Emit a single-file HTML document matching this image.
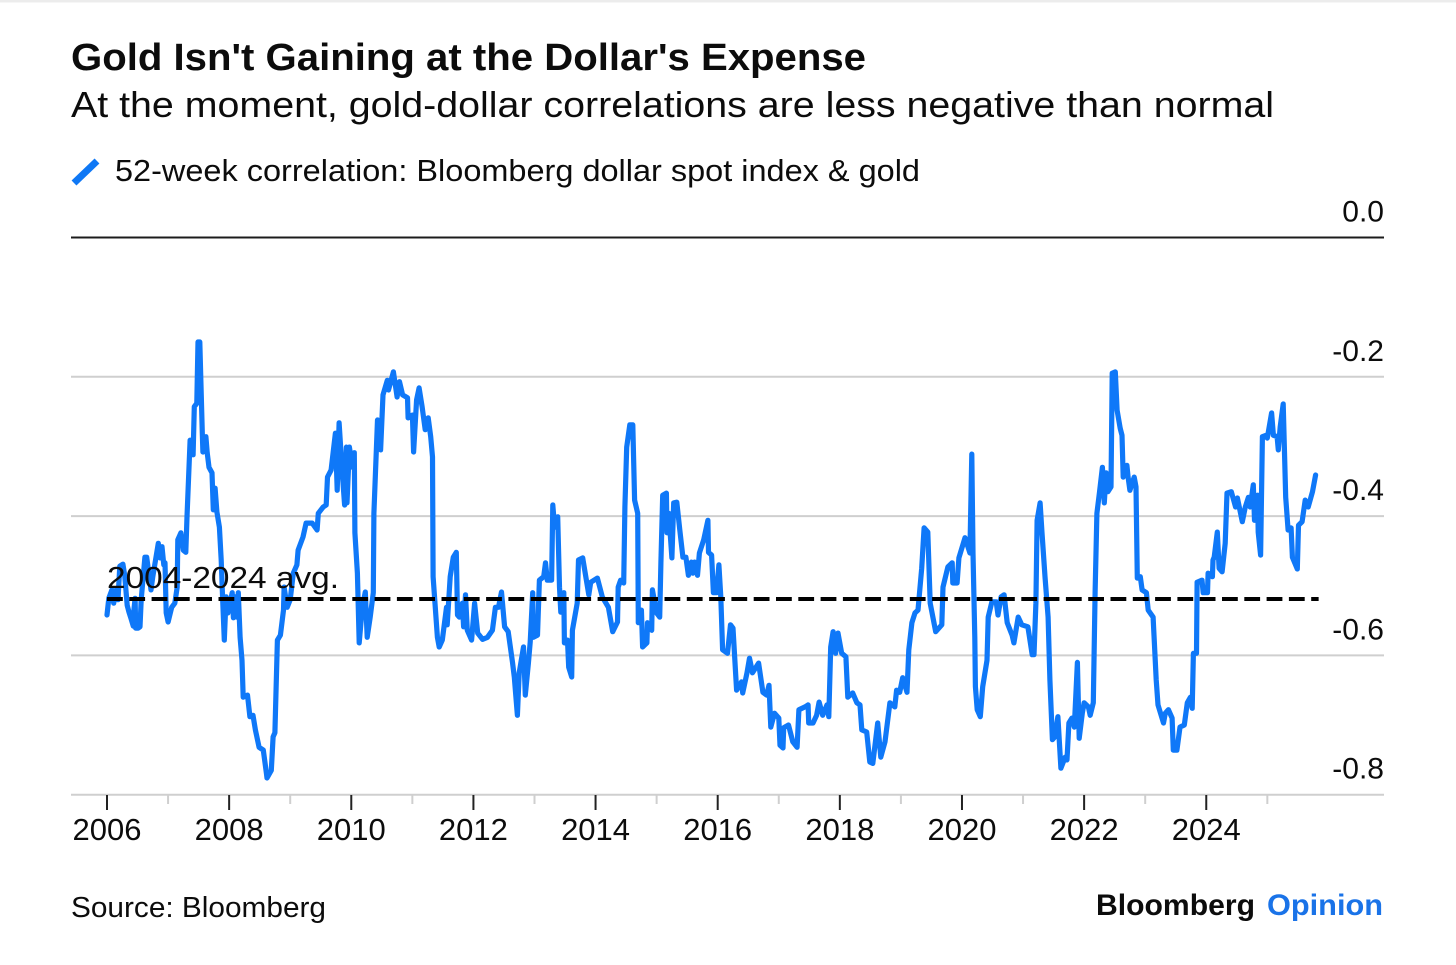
<!DOCTYPE html>
<html lang="en">
<head>
<meta charset="utf-8">
<title>Gold Isn't Gaining at the Dollar's Expense</title>
<style>
html,body{margin:0;padding:0;background:#fff;}
svg{display:block;}
text{font-family:"Liberation Sans",sans-serif;fill:#0c0c0c;}
</style>
</head>
<body>
<svg id="chart" xmlns="http://www.w3.org/2000/svg" width="1456" height="965" viewBox="0 0 1456 965">
  <rect x="0" y="0" width="1456" height="965" fill="#fff"/>
  <rect x="0" y="0" width="1456" height="2.5" fill="#ececec"/>
  <text x="71" y="70" font-size="38" font-weight="700" textLength="795" lengthAdjust="spacingAndGlyphs">Gold Isn't Gaining at the Dollar's Expense</text>
  <text x="71" y="117" font-size="36" textLength="1203" lengthAdjust="spacingAndGlyphs">At the moment, gold-dollar correlations are less negative than normal</text>
  <line x1="74" y1="183" x2="97" y2="161" stroke="#0f78f5" stroke-width="7"/>
  <text x="115" y="181" font-size="31" textLength="805" lengthAdjust="spacingAndGlyphs">52-week correlation: Bloomberg dollar spot index &amp; gold</text>
  <g id="grid"></g>
  <g id="yLabels"></g>
  <g id="xAxis"></g>
  <path id="series" fill="none" stroke="#0f78f8" stroke-width="5.2" stroke-linejoin="round" stroke-linecap="round"></path>
  <line id="avgLine" stroke="#000" stroke-width="4" stroke-dasharray="15.8 6.5"></line>
  <text id="avgLabel" font-size="31" textLength="232" lengthAdjust="spacingAndGlyphs">2004-2024 avg.</text>
  <text x="71" y="917" font-size="29" textLength="255" lengthAdjust="spacingAndGlyphs">Source: Bloomberg</text>
  <text x="1096" y="915" font-size="30" font-weight="700" textLength="159" lengthAdjust="spacingAndGlyphs">Bloomberg</text>
  <text x="1267" y="915" font-size="30" font-weight="700" textLength="116" lengthAdjust="spacingAndGlyphs" style="fill:#1a73e8">Opinion</text>
</svg>
<script>
const yTicks = [0, -0.2, -0.4, -0.6, -0.8];
const yTickLabels = ["0.0", "-0.2", "-0.4", "-0.6", "-0.8"];
const xMajorYears = [2006, 2008, 2010, 2012, 2014, 2016, 2018, 2020, 2022, 2024];
const xMinorYears = [2007, 2009, 2011, 2013, 2015, 2017, 2019, 2021, 2023, 2025];
const averageValue = -0.519;
const averageStart = 2006;
const averageEnd = 2025.84;
const dates = [
2006.00,2006.03,2006.08,2006.11,2006.15,2006.18,2006.21,2006.26,2006.29,2006.33,
2006.36,2006.39,2006.43,2006.44,2006.46,2006.47,2006.51,2006.54,2006.56,2006.62,
2006.65,2006.69,2006.72,2006.75,2006.84,2006.87,2006.90,2006.93,2006.95,2006.97,
2007.00,2007.06,2007.11,2007.15,2007.16,2007.21,2007.25,2007.29,2007.31,2007.36,
2007.39,2007.41,2007.43,2007.47,2007.49,2007.52,2007.56,2007.57,2007.62,2007.64,
2007.67,2007.72,2007.74,2007.77,2007.80,2007.84,2007.87,2007.89,2007.92,2007.95,
2007.98,2008.05,2008.07,2008.10,2008.13,2008.15,2008.18,2008.21,2008.23,2008.30,
2008.34,2008.39,2008.43,2008.49,2008.56,2008.61,2008.62,2008.69,2008.72,2008.75,
2008.79,2008.84,2008.89,2008.90,2008.95,2009.00,2009.05,2009.11,2009.13,2009.21,
2009.26,2009.36,2009.44,2009.46,2009.54,2009.59,2009.61,2009.67,2009.74,2009.77,
2009.80,2009.85,2009.89,2009.92,2009.93,2009.97,2010.02,2010.05,2010.06,2010.10,
2010.13,2010.18,2010.23,2010.26,2010.31,2010.36,2010.37,2010.43,2010.48,2010.52,
2010.59,2010.61,2010.69,2010.75,2010.79,2010.84,2010.92,2010.93,2011.00,2011.02,
2011.07,2011.11,2011.16,2011.21,2011.26,2011.30,2011.33,2011.34,2011.41,2011.44,
2011.49,2011.56,2011.57,2011.62,2011.67,2011.72,2011.74,2011.77,2011.82,2011.84,
2011.87,2011.90,2011.97,2012.02,2012.07,2012.15,2012.23,2012.31,2012.36,2012.41,
2012.46,2012.51,2012.57,2012.64,2012.67,2012.72,2012.75,2012.82,2012.85,2012.90,
2012.93,2012.97,2012.98,2013.05,2013.08,2013.15,2013.18,2013.21,2013.28,2013.30,
2013.33,2013.38,2013.41,2013.43,2013.48,2013.49,2013.54,2013.56,2013.61,2013.62,
2013.70,2013.72,2013.79,2013.84,2013.89,2013.92,2014.03,2014.11,2014.21,2014.28,
2014.36,2014.37,2014.41,2014.46,2014.48,2014.51,2014.56,2014.61,2014.64,2014.69,
2014.70,2014.75,2014.77,2014.84,2014.85,2014.92,2014.93,2015.00,2015.05,2015.07,
2015.10,2015.16,2015.17,2015.20,2015.25,2015.28,2015.33,2015.38,2015.43,2015.48,
2015.52,2015.57,2015.59,2015.62,2015.67,2015.70,2015.77,2015.84,2015.85,2015.90,
2015.93,2015.98,2016.02,2016.05,2016.08,2016.16,2016.21,2016.25,2016.31,2016.39,
2016.41,2016.48,2016.52,2016.57,2016.67,2016.74,2016.80,2016.84,2016.87,2016.93,
2017.00,2017.02,2017.07,2017.08,2017.16,2017.23,2017.30,2017.33,2017.43,2017.48,
2017.49,2017.56,2017.62,2017.66,2017.72,2017.79,2017.82,2017.85,2017.89,2017.93,
2017.97,2018.03,2018.10,2018.13,2018.21,2018.28,2018.33,2018.36,2018.44,2018.49,
2018.54,2018.62,2018.67,2018.74,2018.82,2018.90,2018.93,2018.98,2019.03,2019.10,
2019.13,2019.18,2019.23,2019.28,2019.34,2019.38,2019.44,2019.48,2019.57,2019.67,
2019.69,2019.77,2019.84,2019.85,2019.92,2019.95,2020.05,2020.13,2020.16,2020.18,
2020.21,2020.22,2020.25,2020.30,2020.34,2020.41,2020.43,2020.49,2020.56,2020.59,
2020.64,2020.69,2020.74,2020.82,2020.85,2020.92,2020.98,2021.08,2021.15,2021.18,
2021.21,2021.23,2021.28,2021.31,2021.36,2021.41,2021.44,2021.48,2021.52,2021.57,
2021.62,2021.69,2021.72,2021.75,2021.80,2021.84,2021.89,2021.92,2021.97,2022.00,
2022.07,2022.10,2022.15,2022.18,2022.21,2022.25,2022.30,2022.33,2022.36,2022.39,
2022.44,2022.46,2022.51,2022.54,2022.59,2022.62,2022.64,2022.70,2022.72,2022.75,
2022.82,2022.85,2022.87,2022.92,2022.95,2023.02,2023.05,2023.13,2023.18,2023.21,
2023.30,2023.33,2023.38,2023.44,2023.46,2023.52,2023.57,2023.64,2023.69,2023.74,
2023.77,2023.79,2023.84,2023.85,2023.93,2023.95,2024.02,2024.03,2024.10,2024.11,
2024.13,2024.18,2024.21,2024.26,2024.31,2024.34,2024.41,2024.48,2024.51,2024.59,
2024.64,2024.69,2024.72,2024.77,2024.79,2024.84,2024.85,2024.89,2024.92,2024.98,
2025.00,2025.07,2025.10,2025.16,2025.18,2025.21,2025.26,2025.30,2025.34,2025.39,
2025.41,2025.49,2025.51,2025.57,2025.62,2025.67,2025.74,2025.79
];
const correlation = [
-.542,-.518,-.506,-.525,-.506,-.520,-.472,-.469,-.485,-.528,
-.538,-.546,-.558,-.535,-.518,-.561,-.561,-.559,-.520,-.459,
-.459,-.485,-.506,-.487,-.439,-.460,-.444,-.470,-.467,-.539,
-.552,-.531,-.525,-.502,-.434,-.424,-.449,-.452,-.401,-.291,
-.291,-.312,-.243,-.238,-.150,-.150,-.281,-.308,-.286,-.309,
-.330,-.338,-.391,-.360,-.394,-.416,-.463,-.510,-.578,-.516,
-.539,-.510,-.546,-.516,-.545,-.510,-.574,-.607,-.660,-.657,
-.688,-.686,-.707,-.732,-.736,-.769,-.776,-.765,-.717,-.711,
-.578,-.571,-.535,-.502,-.531,-.520,-.482,-.470,-.449,-.430,
-.410,-.410,-.420,-.396,-.387,-.384,-.344,-.334,-.281,-.363,
-.266,-.334,-.384,-.301,-.381,-.301,-.330,-.309,-.424,-.482,
-.582,-.531,-.509,-.574,-.545,-.510,-.396,-.262,-.305,-.226,
-.205,-.219,-.193,-.229,-.207,-.226,-.230,-.259,-.255,-.308,
-.233,-.216,-.243,-.276,-.259,-.286,-.315,-.487,-.574,-.588,
-.578,-.531,-.556,-.487,-.459,-.452,-.542,-.545,-.525,-.559,
-.513,-.564,-.578,-.525,-.568,-.577,-.574,-.564,-.531,-.531,
-.509,-.559,-.566,-.610,-.631,-.686,-.625,-.588,-.657,-.611,
-.581,-.510,-.574,-.571,-.492,-.487,-.467,-.492,-.492,-.384,
-.416,-.401,-.502,-.538,-.510,-.582,-.578,-.617,-.631,-.564,
-.525,-.463,-.460,-.487,-.513,-.495,-.489,-.516,-.531,-.566,
-.552,-.502,-.492,-.496,-.387,-.301,-.269,-.269,-.377,-.396,
-.553,-.535,-.588,-.582,-.553,-.564,-.506,-.539,-.545,-.467,
-.370,-.367,-.424,-.396,-.460,-.381,-.380,-.420,-.459,-.459,
-.485,-.466,-.482,-.466,-.485,-.453,-.434,-.406,-.452,-.456,
-.510,-.510,-.470,-.516,-.592,-.597,-.556,-.561,-.650,-.638,
-.654,-.625,-.604,-.625,-.611,-.653,-.657,-.643,-.703,-.683,
-.690,-.729,-.733,-.704,-.700,-.724,-.732,-.678,-.674,-.671,
-.697,-.697,-.686,-.667,-.686,-.671,-.688,-.588,-.566,-.597,
-.568,-.597,-.602,-.660,-.654,-.668,-.671,-.707,-.710,-.753,
-.755,-.697,-.746,-.724,-.668,-.674,-.650,-.653,-.632,-.653,
-.592,-.553,-.539,-.535,-.475,-.417,-.423,-.525,-.566,-.556,
-.502,-.473,-.467,-.496,-.496,-.460,-.431,-.453,-.311,-.453,
-.574,-.645,-.678,-.688,-.645,-.607,-.545,-.523,-.523,-.542,
-.516,-.513,-.553,-.571,-.582,-.545,-.556,-.559,-.599,-.599,
-.525,-.406,-.381,-.424,-.487,-.545,-.635,-.721,-.717,-.688,
-.762,-.746,-.750,-.697,-.690,-.703,-.610,-.719,-.683,-.668,
-.674,-.686,-.668,-.510,-.396,-.367,-.330,-.381,-.338,-.365,
-.358,-.195,-.193,-.248,-.274,-.284,-.344,-.327,-.344,-.363,
-.344,-.358,-.489,-.487,-.506,-.510,-.535,-.545,-.635,-.671,
-.697,-.683,-.678,-.690,-.736,-.736,-.703,-.700,-.668,-.660,
-.676,-.597,-.597,-.495,-.492,-.510,-.510,-.482,-.487,-.463,
-.459,-.423,-.475,-.480,-.439,-.367,-.365,-.387,-.374,-.408,
-.387,-.373,-.387,-.355,-.406,-.370,-.423,-.456,-.286,-.284,
-.288,-.252,-.284,-.286,-.305,-.272,-.239,-.373,-.420,-.417,
-.459,-.476,-.413,-.408,-.377,-.387,-.365,-.341
];

const SVG_NS = "http://www.w3.org/2000/svg";
const xScale = function (year) { return 107 + (year - 2006) * 61.07; };
const yScale = function (value) { return 237.5 - value * 696.5; };

const grid = document.getElementById("grid");
const yLabels = document.getElementById("yLabels");
yTicks.forEach(function (tick, i) {
  const line = document.createElementNS(SVG_NS, "line");
  line.setAttribute("x1", 71);
  line.setAttribute("x2", 1384);
  line.setAttribute("y1", yScale(tick));
  line.setAttribute("y2", yScale(tick));
  line.setAttribute("stroke", tick === 0 ? "#1c1c1c" : "#cfcfcf");
  line.setAttribute("stroke-width", 2);
  
  
  grid.appendChild(line);
  const label = document.createElementNS(SVG_NS, "text");
  label.setAttribute("x", 1384);
  label.setAttribute("y", yScale(tick) - 16);
  label.setAttribute("text-anchor", "end");
  label.setAttribute("font-size", 30);
  label.textContent = yTickLabels[i];
  
  
  yLabels.appendChild(label);
});

const xAxis = document.getElementById("xAxis");
xMajorYears.forEach(function (year) {
  const tick = document.createElementNS(SVG_NS, "line");
  tick.setAttribute("x1", xScale(year));
  tick.setAttribute("x2", xScale(year));
  tick.setAttribute("y1", 795);
  tick.setAttribute("y2", 810);
  tick.setAttribute("stroke", "#222");
  tick.setAttribute("stroke-width", 2);
  
  
  xAxis.appendChild(tick);
  const label = document.createElementNS(SVG_NS, "text");
  label.setAttribute("x", xScale(year));
  label.setAttribute("y", 840);
  label.setAttribute("text-anchor", "middle");
  label.setAttribute("font-size", 31);
  label.textContent = String(year);
  
  
  xAxis.appendChild(label);
});
xMinorYears.forEach(function (year) {
  const tick = document.createElementNS(SVG_NS, "line");
  tick.setAttribute("x1", xScale(year));
  tick.setAttribute("x2", xScale(year));
  tick.setAttribute("y1", 795);
  tick.setAttribute("y2", 804);
  tick.setAttribute("stroke", "#cfcfcf");
  tick.setAttribute("stroke-width", 2);
  
  
  xAxis.appendChild(tick);
});

const d = dates.map(function (year, i) {
  return (i === 0 ? "M" : "L") + xScale(year).toFixed(1) + " " + yScale(correlation[i]).toFixed(1);
}).join(" ");
document.getElementById("series").setAttribute("d", d);

const avgLine = document.getElementById("avgLine");
avgLine.setAttribute("x1", xScale(averageStart));
avgLine.setAttribute("x2", xScale(averageEnd));
avgLine.setAttribute("y1", yScale(averageValue));
avgLine.setAttribute("y2", yScale(averageValue));
const avgLabel = document.getElementById("avgLabel");
avgLabel.setAttribute("x", xScale(averageStart));
avgLabel.setAttribute("y", yScale(averageValue) - 11);
</script>
</body>
</html>
